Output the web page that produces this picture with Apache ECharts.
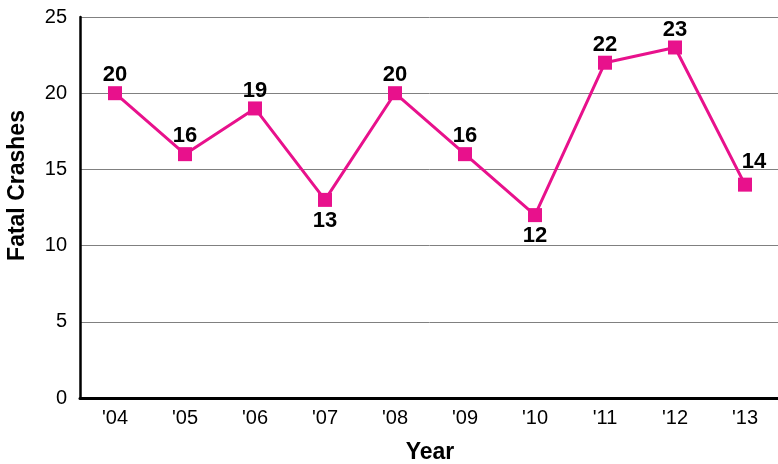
<!DOCTYPE html>
<html><head><meta charset="utf-8">
<script src="https://cdn.jsdelivr.net/npm/echarts@6/dist/echarts.min.js"></script>
<style>html,body{margin:0;padding:0;background:#fff}#c{width:778px;height:464px}</style>
</head><body><div id="c"></div>
<script>
const categories = ["'04","'05","'06","'07","'08","'09","'10","'11","'12","'13"];
const crashes = [20,16,19,13,20,16,12,22,23,14];
const yTicks = [0,5,10,15,20,25];
const belowIdx = [3,6];
const color = '#e8118c';
const font = '"Liberation Sans", Arial, Helvetica, sans-serif';
const chart = echarts.init(document.getElementById('c'));
chart.setOption({
  animation:false,
  grid:{left:80,top:17,width:700,height:381,containLabel:false,outerBoundsMode:'none'},
  xAxis:{type:'category',data:categories,boundaryGap:true,
    name:'Year',nameLocation:'middle',nameGap:43,
    nameTextStyle:{fontFamily:font,fontSize:23,fontWeight:'bold',color:'#000'},
    axisLine:{lineStyle:{color:'#000',width:3}},
    axisTick:{inside:true,alignWithLabel:true,length:5,lineStyle:{color:'#000',width:1.5}},
    axisLabel:{fontFamily:font,fontSize:20,color:'#000',margin:10},
    splitLine:{show:false}},
  yAxis:{type:'value',min:0,max:25,interval:5,
    name:'Fatal Crashes',nameLocation:'middle',nameGap:51,
    nameTextStyle:{fontFamily:font,fontSize:23,fontWeight:'bold',color:'#000',padding:[0,0,0,44]},
    axisLine:{show:true,lineStyle:{color:'#000',width:2.5}},
    axisTick:{show:false},
    axisLabel:{fontFamily:font,fontSize:20,color:'#000',margin:13,
      formatter:v=>yTicks.includes(v)?String(v):''},
    splitLine:{lineStyle:{color:'#808080',width:1}}},
  series:[{type:'line',data:crashes.map((v,i)=>{
      const d={value:v};
      if(belowIdx.includes(i)) d.label={position:'bottom',distance:3};
      if(i===crashes.length-1) d.label={position:'top',offset:[9,-5]};
      return d;}),
    symbol:'rect',symbolSize:14,
    lineStyle:{color:color,width:3},
    itemStyle:{color:color},
    label:{show:true,position:'top',distance:0,fontFamily:font,fontSize:22,fontWeight:'bold',color:'#000'}}]
});
</script></body></html>
